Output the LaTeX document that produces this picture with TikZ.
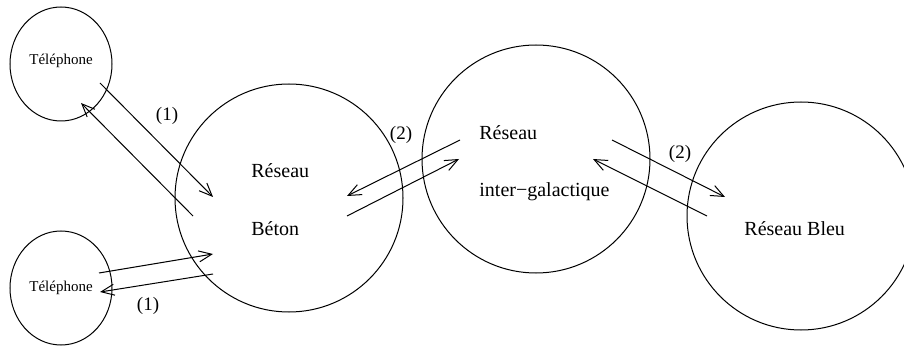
\documentclass[tikz,border=0pt]{standalone}
\usepackage{fontspec}
\setmainfont{Liberation Serif}
\usetikzlibrary{shapes.geometric,arrows.meta}

\begin{document}
\begin{tikzpicture}[x=0.5pt,y=-0.5pt,
  every node/.style={font=\fontsize{10}{12}\selectfont},
  tel/.style={draw,ellipse,inner sep=0pt,minimum width=51pt,minimum height=57pt},
  net/.style={draw,circle,inner sep=0pt,minimum size=114pt},
  lbl/.style={inner sep=0pt,anchor=base west},
  num/.style={inner sep=0pt,font=\fontsize{9.5}{11}\selectfont},
  arr/.style={-{Straight Barb[length=6.5pt,width=5.5pt]},line width=0.5pt}]

  \useasboundingbox (0,0) rectangle (904,347);

  % Phones
  \node[tel,line width=0.5pt] (tel1) at (61,64) {};
  \node[tel,line width=0.5pt] (tel2) at (61,288) {};
  \node[inner sep=0pt,anchor=base,font=\fontsize{7.5}{9}\selectfont] (tt1) at (61,65) {Téléphone};
  \node[inner sep=0pt,anchor=base,font=\fontsize{7.5}{9}\selectfont] (tt2) at (61,292) {Téléphone};

  % Networks
  \node[net,line width=0.5pt] (beton) at (289,198) {};
  \node[net,line width=0.5pt] (inter) at (536,159) {};
  \node[net,line width=0.5pt] (bleu) at (801,216) {};

  \node[lbl] (bt1) at (251,178) {Réseau};
  \node[lbl] (bt2) at (251,235) {Béton};
  \node[lbl] (it1) at (479,140) {Réseau};
  \node[lbl] (it2) at (479,197) {inter−galactique};
  \node[lbl] (bl1) at (744,235) {Réseau Bleu};

  % Link labels
  \node[num] (n1) at (167,116) {(1)};
  \node[num] (n2) at (148,306) {(1)};
  \node[num] (n3) at (401,135) {(2)};
  \node[num] (n4) at (680,154) {(2)};

  % Arrow ends
  \coordinate (a1) at (100,83);  \coordinate (b1) at (213,197);
  \coordinate (a2) at (193,216); \coordinate (b2) at (81,103);
  \coordinate (a3) at (99,273);  \coordinate (b3) at (213,254);
  \coordinate (a4) at (213,274); \coordinate (b4) at (100,292);
  \coordinate (a5) at (460,140); \coordinate (b5) at (347,196);
  \coordinate (a6) at (347,216); \coordinate (b6) at (459,159);
  \coordinate (a7) at (612,140); \coordinate (b7) at (725,197);
  \coordinate (a8) at (707,216); \coordinate (b8) at (593,159);

  % Edges
  \draw[arr] (a1) -- (b1);
  \draw[arr] (a2) -- (b2);
  \draw[arr] (a3) -- (b3);
  \draw[arr] (a4) -- (b4);
  \draw[arr] (a5) -- (b5);
  \draw[arr] (a6) -- (b6);
  \draw[arr] (a7) -- (b7);
  \draw[arr] (a8) -- (b8);

\end{tikzpicture}
\end{document}
